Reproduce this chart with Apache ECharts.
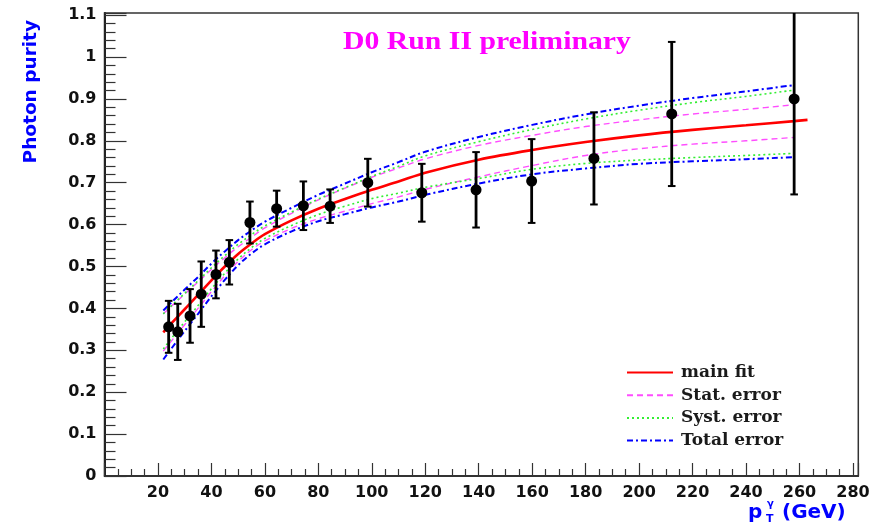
<!DOCTYPE html>
<html>
<head>
<meta charset="utf-8">
<script src="https://cdn.jsdelivr.net/npm/echarts@6/dist/echarts.min.js"></script>
<style>html,body{margin:0;padding:0;background:#fff;}#c{width:879px;height:530px;}</style>
</head>
<body>
<div id="c"></div>
<script>
// ---- data ----
var ptX = [24, 27.4, 32, 36.2, 41.7, 46.7, 54.4, 64.4, 74.4, 84.4, 98.5, 118.7, 139, 159.8, 183.1, 212.2, 258];
var ptY = [0.356, 0.344, 0.382, 0.434, 0.481, 0.510, 0.605, 0.638, 0.645, 0.644, 0.700, 0.676, 0.683, 0.704, 0.758, 0.864, 0.900];
var ptErr = [0.062, 0.067, 0.064, 0.078, 0.057, 0.053, 0.050, 0.043, 0.058, 0.040, 0.057, 0.069, 0.090, 0.100, 0.110, 0.172, 0.228];

var fitX   = [22, 25, 30, 35, 40, 45, 50, 55, 60, 70, 80, 90, 100, 110, 120, 140, 160, 180, 200, 220, 240, 258];
var mainX  = [22, 25, 30, 35, 40, 45, 50, 55, 60, 70, 80, 90, 100, 110, 120, 140, 160, 180, 200, 220, 240, 258, 263];
var mainY  = [0.343, 0.364, 0.398, 0.432, 0.467, 0.500, 0.530, 0.555, 0.577, 0.610, 0.638, 0.661, 0.683, 0.703, 0.724, 0.755, 0.778, 0.797, 0.813, 0.826, 0.837, 0.847, 0.850];
var statUp = [0.387, 0.405, 0.434, 0.463, 0.493, 0.521, 0.547, 0.570, 0.592, 0.627, 0.659, 0.687, 0.713, 0.735, 0.757, 0.789, 0.813, 0.834, 0.850, 0.864, 0.875, 0.886];
var statLo = [0.298, 0.322, 0.361, 0.400, 0.440, 0.478, 0.512, 0.540, 0.561, 0.591, 0.614, 0.632, 0.650, 0.666, 0.684, 0.714, 0.741, 0.765, 0.781, 0.792, 0.800, 0.808];
var systUp = [0.387, 0.406, 0.436, 0.466, 0.497, 0.526, 0.553, 0.576, 0.597, 0.630, 0.661, 0.688, 0.715, 0.739, 0.764, 0.798, 0.827, 0.852, 0.873, 0.891, 0.906, 0.921];
var systLo = [0.303, 0.328, 0.368, 0.407, 0.447, 0.484, 0.518, 0.545, 0.567, 0.598, 0.624, 0.644, 0.662, 0.675, 0.689, 0.710, 0.732, 0.746, 0.754, 0.760, 0.765, 0.770];
var totUp  = [0.395, 0.414, 0.445, 0.475, 0.507, 0.536, 0.563, 0.586, 0.607, 0.640, 0.671, 0.698, 0.725, 0.749, 0.774, 0.809, 0.838, 0.863, 0.884, 0.902, 0.918, 0.933];
var totLo  = [0.278, 0.304, 0.346, 0.387, 0.429, 0.468, 0.503, 0.531, 0.553, 0.584, 0.608, 0.625, 0.641, 0.655, 0.671, 0.698, 0.720, 0.734, 0.745, 0.751, 0.756, 0.761];

var legendNames = ['main fit', 'Stat. error', 'Syst. error', 'Total error'];

function zip(xs, ys) { return xs.map(function (x, i) { return [x, ys[i]]; }); }

var chart = echarts.init(document.getElementById('c'), null, {renderer: 'canvas'});

function curve(name, xs, ys, color, width, type, z) {
  return {
    name: name, type: 'line', data: zip(xs, ys), showSymbol: false, symbol: 'none',
    smooth: 0.35, silent: true, z: z || 2,
    lineStyle: {color: color, width: width, type: type},
    itemStyle: {color: color, opacity: 0}
  };
}

var C_STAT = '#ff4dff', C_SYST = '#33ee33', C_TOT = '#0000ff', C_MAIN = '#ff0000';
var SANS = '"DejaVu Sans"';

var option = {
  animation: false,
  backgroundColor: '#ffffff',
  grid: {left: 104.5, right: 20.7, top: 13, bottom: 54, show: true, borderColor: '#333', borderWidth: 1.5, backgroundColor: 'transparent'},
  legend: {
    data: legendNames, orient: 'vertical', left: 621, top: 359,
    itemWidth: 46, itemHeight: 17, itemGap: 5.7,
    textStyle: {fontFamily: 'DejaVu Serif', fontWeight: 'bold', fontSize: 17, lineHeight: 17, color: '#1a1a1a', padding: [0, 0, 0, 3]}
  },
  xAxis: {
    type: 'value', min: 0, max: 282, interval: 20,
    axisLine: {show: true, onZero: false, lineStyle: {color: '#222', width: 1.5}},
    axisTick: {show: true, inside: true, length: 13, lineStyle: {color: '#333', width: 1.2}},
    minorTick: {show: true, splitNumber: 4, length: 7, lineStyle: {color: '#333', width: 1.2}},
    splitLine: {show: false},
    axisLabel: {
      margin: 9, color: '#111', fontFamily: 'DejaVu Sans', fontWeight: 'bold', fontSize: 16,
      formatter: function (v) { return (v > 0 && v % 20 === 0) ? String(v) : ''; }
    }
  },
  yAxis: {
    type: 'value', min: 0, max: 1.105, interval: 0.1,
    axisLine: {show: true, onZero: false, lineStyle: {color: '#222', width: 2}},
    axisTick: {show: true, inside: true, length: 22, lineStyle: {color: '#333', width: 1.2}},
    minorTick: {show: true, splitNumber: 5, length: 11, lineStyle: {color: '#333', width: 1.2}},
    splitLine: {show: false},
    axisLabel: {
      margin: 8, color: '#111', fontFamily: 'DejaVu Sans', fontWeight: 'bold', fontSize: 16,
      formatter: function (v) {
        var t = Math.round(v * 10);
        if (Math.abs(v * 10 - t) > 1e-6) return '';
        return String(t / 10);
      }
    }
  },
  graphic: [
    {type: 'text', x: 343, y: 30, scaleX: 1.19,
     style: {text: 'D0 Run II preliminary', fill: '#ff00ff', font: 'bold 25px "Liberation Serif"', textVerticalAlign: 'top'}},
    {type: 'text', x: 22, y: 20, rotation: Math.PI / 2,
     style: {text: 'Photon purity', fill: '#0000ff', font: 'bold 18.5px ' + SANS, textAlign: 'right', textVerticalAlign: 'top'}},
    {type: 'text', x: 748, y: 503, style: {text: 'p', fill: '#0000ff', font: 'bold 20px ' + SANS}},
    {type: 'text', x: 767, y: 499, style: {text: 'γ', fill: '#0000ff', font: 'bold 10px ' + SANS}},
    {type: 'text', x: 766, y: 514, style: {text: 'T', fill: '#0000ff', font: 'bold 11px ' + SANS}},
    {type: 'text', x: 782, y: 503, style: {text: '(GeV)', fill: '#0000ff', font: 'bold 20px ' + SANS}}
  ],
  series: [
    curve('Stat. error', fitX, statUp, C_STAT, 1.4, [6, 4], 2),
    curve('Stat. error', fitX, statLo, C_STAT, 1.4, [6, 4], 2),
    curve('Syst. error', fitX, systUp, C_SYST, 1.6, [2, 3], 2),
    curve('Syst. error', fitX, systLo, C_SYST, 1.6, [2, 3], 2),
    curve('Total error', fitX, totUp, C_TOT, 2, [6, 3, 2, 3], 2),
    curve('Total error', fitX, totLo, C_TOT, 2, [6, 3, 2, 3], 2),
    curve('main fit', mainX, mainY, C_MAIN, 2.6, 'solid', 3),
    {
      name: 'errors', type: 'custom', z: 4, silent: true,
      data: ptX.map(function (x, i) { return [x, ptY[i] - ptErr[i], ptY[i] + ptErr[i]]; }),
      renderItem: function (params, api) {
        var lo = api.coord([api.value(0), api.value(1)]);
        var hi = api.coord([api.value(0), api.value(2)]);
        var cs = params.coordSys;
        var top = Math.max(hi[1], cs.y);
        var bot = Math.min(lo[1], cs.y + cs.height);
        var x = lo[0], w = 3.8;
        var kids = [
          {type: 'line', shape: {x1: x, y1: top, x2: x, y2: bot}, style: {stroke: '#000', lineWidth: 2.8}},
          {type: 'line', shape: {x1: x - w, y1: bot, x2: x + w, y2: bot}, style: {stroke: '#000', lineWidth: 2}}
        ];
        if (hi[1] >= cs.y) kids.push({type: 'line', shape: {x1: x - w, y1: top, x2: x + w, y2: top}, style: {stroke: '#000', lineWidth: 2}});
        return {type: 'group', children: kids};
      }
    },
    {
      name: 'data', type: 'scatter', z: 5, silent: true, symbol: 'circle', symbolSize: 11,
      data: zip(ptX, ptY), itemStyle: {color: '#000', opacity: 1}
    }
  ]
};
chart.setOption(option);
</script>
</body>
</html>
